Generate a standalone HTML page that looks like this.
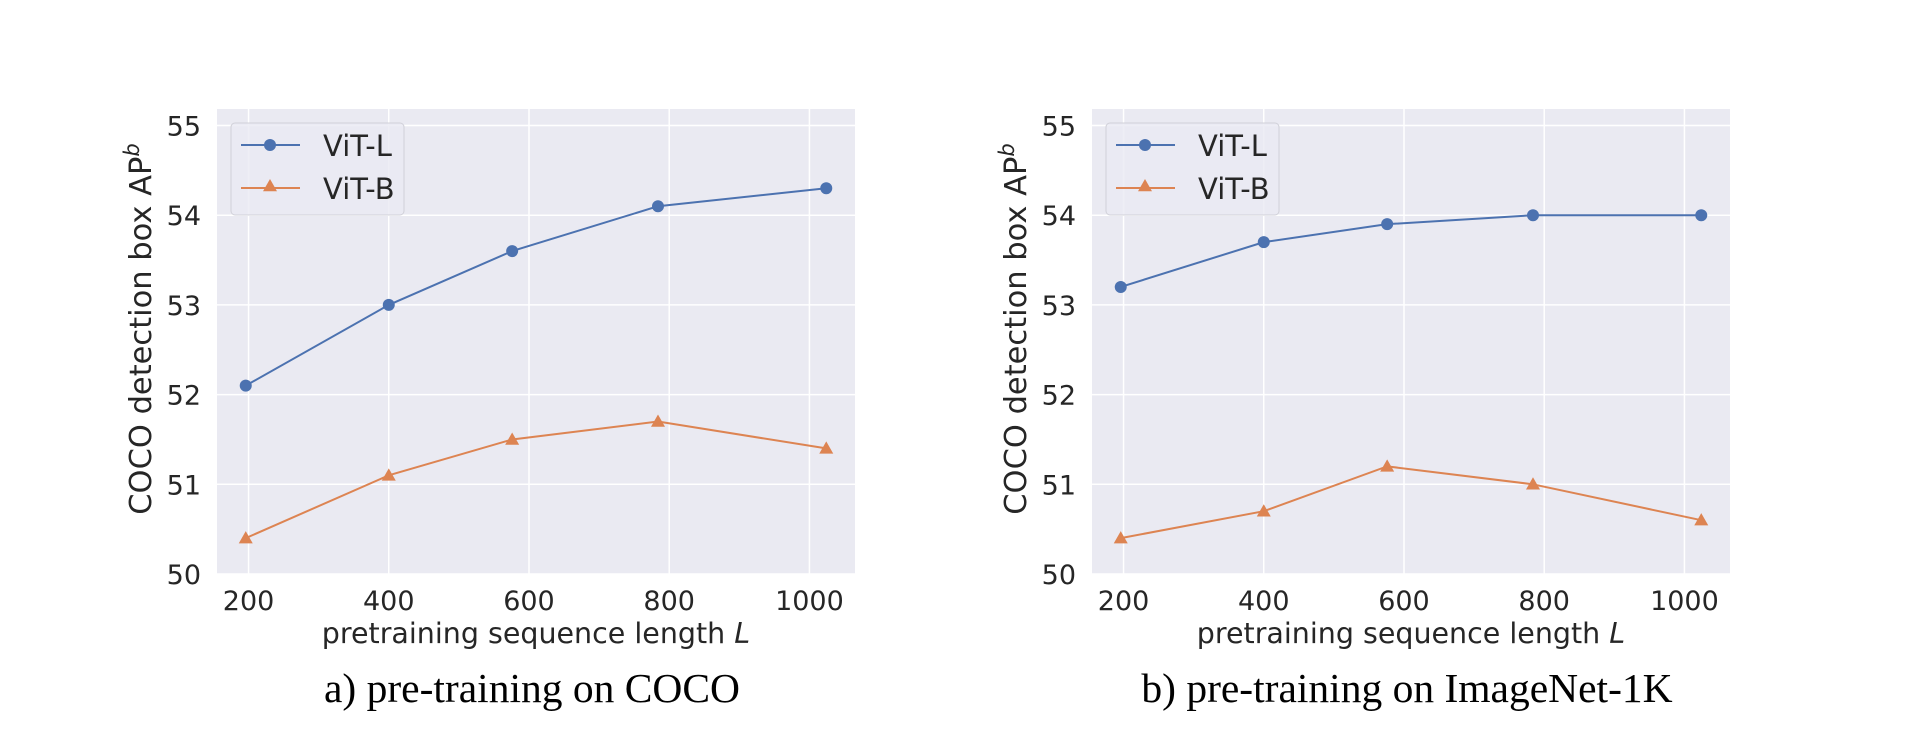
<!DOCTYPE html>
<html><head><meta charset="utf-8"><style>
html,body{margin:0;padding:0;background:#fff;}
svg{display:block;}
text{font-family:"DejaVu Sans","Liberation Sans",sans-serif;fill:#262626;}
.cap{font-family:"Liberation Serif",serif;fill:#000;font-size:41.5px;}
</style></head><body>
<svg id="fig" width="1910" height="736" viewBox="0 0 1910 736"></svg>
<script>
const seqLengths = [196, 400, 576, 784, 1024];
const cocoVitL = [52.1, 53.0, 53.6, 54.1, 54.3];
const cocoVitB = [50.4, 51.1, 51.5, 51.7, 51.4];
const inVitL = [53.2, 53.7, 53.9, 54.0, 54.0];
const inVitB = [50.4, 50.7, 51.2, 51.0, 50.6];
const xTicks = [200, 400, 600, 800, 1000];
const yTicks = [50, 51, 52, 53, 54, 55];
const captions = ["a) pre-training on COCO", "b) pre-training on ImageNet-1K"];

const NS = "http://www.w3.org/2000/svg";
const svg = document.getElementById('fig');
function mk(tag, attrs, parent, text) {
  const e = document.createElementNS(NS, tag);
  for (const k in attrs) e.setAttribute(k, attrs[k]);
  if (text !== undefined) e.textContent = text;
  parent.appendChild(e);
  return e;
}
const BLUE = "#4c72b0", ORANGE = "#dd8452";
function tri(cx, cy, r) {
  return `${cx},${cy - r} ${cx - r * 1.0},${cy + r * 0.75} ${cx + r * 1.0},${cy + r * 0.75}`;
}
function panel(px, L, B, caption, idx) {
  const left = px, right = px + 638, top = 109, bottom = 574;
  const g = mk('g', {}, svg);
  
  
  const xs = v => left + (v - 155) / (1065 - 155) * (right - left);
  const ys = v => 574 - (v - 50) * 89.7;
  const bg = mk('rect', {x: left, y: top, width: right - left, height: bottom - top, fill: '#eaeaf2'}, g);
  
  
  yTicks.forEach(t => {
    const gl = mk('line', {x1: left, x2: right, y1: ys(t), y2: ys(t), stroke: '#fff', 'stroke-width': 1.5}, g);
    
    
    const tl = mk('text', {x: left - 16, y: ys(t) + 10, 'text-anchor': 'end', 'font-size': 27}, g, String(t));
    
    
  });
  xTicks.forEach(t => {
    const gl = mk('line', {x1: xs(t), x2: xs(t), y1: top, y2: bottom, stroke: '#fff', 'stroke-width': 1.5}, g);
    
    
    const tl = mk('text', {x: xs(t), y: 610, 'text-anchor': 'middle', 'font-size': 27}, g, String(t));
    
    
  });
  const xl = mk('text', {x: (left + right) / 2, y: 643, 'text-anchor': 'middle', 'font-size': 28.5}, g);
  
  
  xl.innerHTML = 'pretraining sequence length <tspan font-style="italic">L</tspan>';
  const yl = mk('text', {x: 0, y: 0, 'text-anchor': 'middle', 'font-size': 30.5, transform: `translate(${left - 66},329) rotate(-90)`}, g);
  
  
  yl.innerHTML = 'COCO detection box AP<tspan font-size="21" dy="-12" font-style="italic">b</tspan>';
  const lineL = mk('polyline', {points: seqLengths.map((s, i) => xs(s) + ',' + ys(L[i])).join(' '), fill: 'none', stroke: BLUE, 'stroke-width': 2}, g);
  
  
  const lineB = mk('polyline', {points: seqLengths.map((s, i) => xs(s) + ',' + ys(B[i])).join(' '), fill: 'none', stroke: ORANGE, 'stroke-width': 2}, g);
  
  
  seqLengths.forEach((s, i) => {
    const c = mk('circle', {cx: xs(s), cy: ys(L[i]), r: 6, fill: BLUE}, g);
    
    
    const t = mk('polygon', {points: tri(xs(s), ys(B[i]), 7), fill: ORANGE}, g);
    
    
  });
  const lg = mk('g', {}, g);
  
  
  const lx = left + 14;
  mk('rect', {x: lx, y: 123, width: 173, height: 92, rx: 4, fill: '#eaeaf2', 'fill-opacity': 0.8, stroke: '#d0d0d8', 'stroke-width': 1}, lg);
  const e1 = mk('g', {}, lg);
  
  
  mk('line', {x1: lx + 10, x2: lx + 69, y1: 145, y2: 145, stroke: BLUE, 'stroke-width': 2}, e1);
  mk('circle', {cx: lx + 39, cy: 145, r: 6, fill: BLUE}, e1);
  mk('text', {x: lx + 92, y: 156, 'font-size': 29}, e1, 'ViT-L');
  const e2 = mk('g', {}, lg);
  
  
  mk('line', {x1: lx + 10, x2: lx + 69, y1: 188, y2: 188, stroke: ORANGE, 'stroke-width': 2}, e2);
  mk('polygon', {points: tri(lx + 39, 186, 7), fill: ORANGE}, e2);
  mk('text', {x: lx + 92, y: 199, 'font-size': 29}, e2, 'ViT-B');
  const cp = mk('text', {x: (left + right) / 2 - 4, y: 702, 'text-anchor': 'middle', class: 'cap'}, g, caption);
  
  
}
panel(217, cocoVitL, cocoVitB, captions[0], 0);
panel(1092, inVitL, inVitB, captions[1], 1);
</script>
</body></html>
